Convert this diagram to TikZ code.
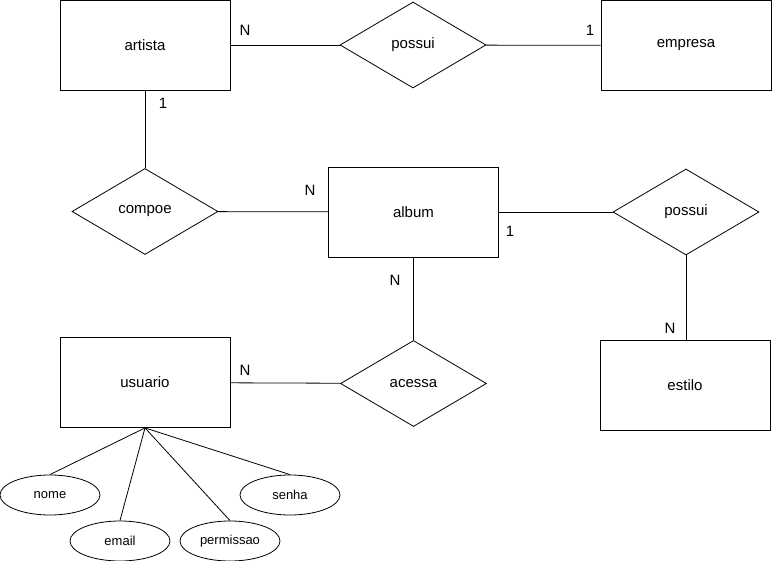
\documentclass[tikz,border=0pt]{standalone}
\usepackage{fontspec}
\setmainfont{Liberation Sans}
\usetikzlibrary{shapes.geometric}
\begin{document}
\begin{tikzpicture}[x=1pt, y=-1pt, line width=0.8pt,
  entity/.style={draw, minimum width=170pt, minimum height=90pt, font=\fontsize{15}{18}\selectfont},
  relation/.style={draw, diamond, aspect=1.7, minimum width=146pt, minimum height=86pt, inner sep=0pt, font=\fontsize{15}{18}\selectfont},
  attrib/.style={draw, ellipse, minimum width=100pt, minimum height=40pt, inner sep=0pt, font=\fontsize{13}{15}\selectfont},
  card/.style={font=\fontsize{15}{18}\selectfont}]
\useasboundingbox (0,0) rectangle (772,561);
% Entities
\node[entity] (artista) at (145,45) {artista};
\node[entity] (empresa) at (686,45.5) {empresa};
\node[entity] (album) at (413.5,212) {album};
\node[entity] (estilo) at (685,385) {estilo};
\node[entity] (usuario) at (145,382.5) {usuario};
% Relationships
\node[relation] (possuiEmp) at (413,45) {possui};
\node[relation] (compoe) at (145,211.5) {compoe};
\node[relation] (possuiEst) at (686,212) {possui};
\node[relation] (acessa) at (413.5,383.5) {acessa};
% Attributes of usuario
\node[attrib] (nome) at (50,495) {nome};
\node[attrib] (email) at (120,541) {email};
\node[attrib] (permissao) at (230,541) {permissao};
\node[attrib] (senha) at (290,495) {senha};
% Links
\draw (artista) -- (possuiEmp);
\draw (possuiEmp) -- (empresa);
\draw (artista) -- (compoe);
\draw (compoe) -- (album);
\draw (album) -- (possuiEst);
\draw (possuiEst.south) -- (possuiEst.south |- estilo.north);
\draw (album) -- (acessa);
\draw (usuario) -- (acessa);
\draw (usuario.south) -- (nome.north);
\draw (usuario.south) -- (email.north);
\draw (usuario.south) -- (permissao.north);
\draw (usuario.south) -- (senha.north);
% Cardinalities
\node[card] (cArtPos) at (245,30) {N};
\node[card] (cEmpPos) at (590,30) {1};
\node[card] (cArtCom) at (163,103) {1};
\node[card] (cAlbCom) at (310,190) {N};
\node[card] (cAlbPos) at (510,231) {1};
\node[card] (cAlbAce) at (395,280) {N};
\node[card] (cEstPos) at (670,328) {N};
\node[card] (cUsuAce) at (245,370) {N};
\end{tikzpicture}
\end{document}
